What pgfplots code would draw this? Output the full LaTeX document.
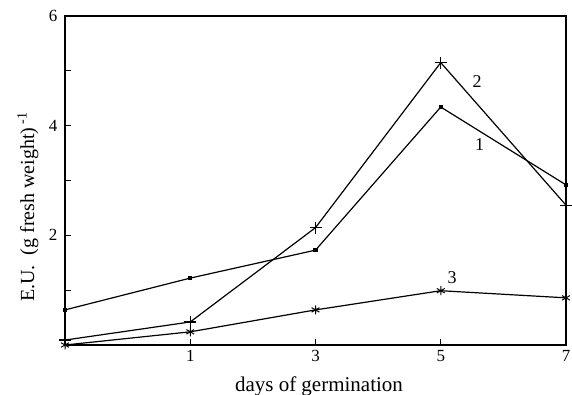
\documentclass[border=0pt]{standalone}
\usepackage{pgfplots}
\pgfplotsset{compat=1.18}
\usepackage{fontspec}
\setmainfont{Liberation Serif}
\begin{document}
\begin{tikzpicture}
\begin{axis}[
  scale only axis,
  width=501pt, height=329pt,
  xmin=0, xmax=4, ymin=0, ymax=6,
  axis line style={line width=1.2pt},
  xtick={1,2,3,4}, xticklabels={1,3,5,7},
  ytick={0,1,2,3,4,5,6}, yticklabels={,,2,,4,,6},
  tick align=inside,
  xtick pos=bottom, ytick pos=left,
  major tick length=6pt,
  tick style={line width=0.9pt, black},
  /pgf/number format/assume math mode=true,
  ticklabel style={font=\fontsize{17}{19}\selectfont},
  xticklabel style={yshift=-2pt},
  yticklabel style={xshift=-4pt},
  clip=false,
]
\addplot[black, line width=1.2pt, mark=square*, mark size=1.6pt] coordinates {(0,0.64) (1,1.22) (2,1.73) (3,4.34) (4,2.92)};
\addplot[black, line width=1.2pt, mark=+, mark size=6pt, mark options={line width=1.2pt}] coordinates {(0,0.09) (1,0.42) (2,2.14) (3,5.15) (4,2.55)};
\addplot[black, line width=1.2pt, mark=asterisk, mark size=4.5pt, mark options={line width=1pt}] coordinates {(0,0) (1,0.24) (2,0.64) (3,0.99) (4,0.86)};
\node[font=\fontsize{18}{20}\selectfont] at (axis cs:3.29,4.80) {2};
\node[font=\fontsize{18}{20}\selectfont] at (axis cs:3.31,3.65) {1};
\node[font=\fontsize{18}{20}\selectfont] at (axis cs:3.09,1.22) {3};
\node[font=\fontsize{20}{22}\selectfont, rotate=90] at ([xshift=-37pt]rel axis cs:0,0.42) {E.U.\ \ (g fresh weight)\,\textsuperscript{-1}};
\node[font=\fontsize{21}{23}\selectfont] at ([yshift=-41pt]rel axis cs:0.507,0) {days of germination};
\end{axis}
\pgfresetboundingbox
\path ([xshift=-65pt,yshift=-50pt]current axis.south west) rectangle ([xshift=6pt,yshift=16pt]current axis.north east);
\end{tikzpicture}
\end{document}
